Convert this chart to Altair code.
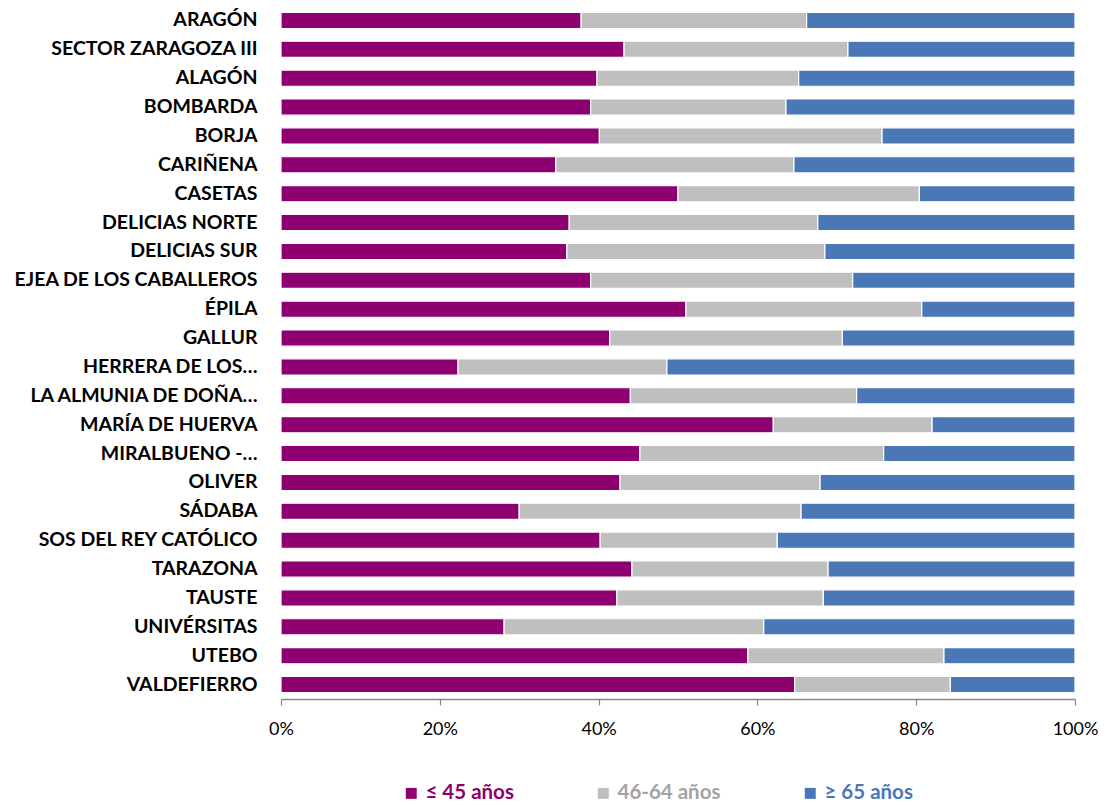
import altair as alt
import pandas as pd

categories = ["ARAGÓN", "SECTOR ZARAGOZA III", "ALAGÓN", "BOMBARDA", "BORJA", "CARIÑENA",
              "CASETAS", "DELICIAS NORTE", "DELICIAS SUR", "EJEA DE LOS CABALLEROS", "ÉPILA",
              "GALLUR", "HERRERA DE LOS…", "LA ALMUNIA DE DOÑA…", "MARÍA DE HUERVA",
              "MIRALBUENO -…", "OLIVER", "SÁDABA", "SOS DEL REY CATÓLICO", "TARAZONA",
              "TAUSTE", "UNIVÉRSITAS", "UTEBO", "VALDEFIERRO"]
young = [37.8, 43.2, 39.8, 39.0, 40.1, 34.6, 50.0, 36.3, 36.0, 39.0, 51.0, 41.4, 22.3, 44.0,
         62.0, 45.2, 42.7, 30.0, 40.2, 44.2, 42.3, 28.1, 58.8, 64.7]
mid = [28.4, 28.2, 25.4, 24.6, 35.6, 30.0, 30.4, 31.3, 32.5, 33.0, 29.7, 29.3, 26.3, 28.5,
       20.0, 30.7, 25.2, 35.5, 22.3, 24.7, 26.0, 32.7, 24.7, 19.6]
series = ["≤ 45 años", "46-64 años", "≥ 65 años"]
colors = ["#8E006F", "#BFBFBF", "#4A78B6"]
label_colors = ["#8E006F", "#A3A3A3", "#4A78B6"]

rows = []
for c, y, m in zip(categories, young, mid):
    old = 100 - y - m
    for i, (s, v) in enumerate(zip(series, [y, m, old])):
        rows.append({"cat": c, "serie": s, "val": v, "ord": i})
df = pd.DataFrame(rows)

label_expr = (f"datum.value == '{series[0]}' ? '{label_colors[0]}' : "
              f"datum.value == '{series[1]}' ? '{label_colors[1]}' : '{label_colors[2]}'")

chart = alt.Chart(df).mark_bar(stroke="white", strokeWidth=1.2).encode(
    y=alt.Y("cat:N", sort=categories, title=None,
            scale=alt.Scale(paddingInner=0.44, paddingOuter=0.22),
            axis=alt.Axis(domain=False, ticks=False, labelFont="Lato", labelFontWeight="bold",
                          labelFontSize=19.5, labelColor="#000000", labelPadding=24, labelLimit=300)),
    x=alt.X("val:Q", stack="normalize", title=None,
            scale=alt.Scale(domain=[0, 1], nice=False),
            axis=alt.Axis(format="%", values=[0, 0.2, 0.4, 0.6, 0.8, 1.0], grid=False,
                          domainColor="#888888", domainWidth=1.5, tickColor="#888888",
                          tickSize=6, tickWidth=1.2, labelFont="Lato", labelFontSize=18,
                          labelColor="#000000", labelPadding=15, labelFlush=False)),
    color=alt.Color("serie:N", sort=series,
                    scale=alt.Scale(domain=series, range=colors),
                    legend=alt.Legend(title=None, orient="none", legendX=120, legendY=777,
                                      direction="horizontal", symbolType="square",
                                      symbolSize=120, symbolStrokeWidth=0,
                                      labelFont="Lato", labelFontWeight="bold", labelFontSize=20.5,
                                      labelColor=alt.ExprRef(label_expr),
                                      columnPadding=79, labelOffset=4)),
    order=alt.Order("ord:Q"),
).properties(
    width=794, height=693,
    autosize=alt.AutoSizeParams(type="none"),
    padding={"left": 281, "top": 6, "right": 32, "bottom": 106},
).configure_view(stroke=None)

chart.save("out.html", embed_options={"renderer": "svg", "actions": False})
